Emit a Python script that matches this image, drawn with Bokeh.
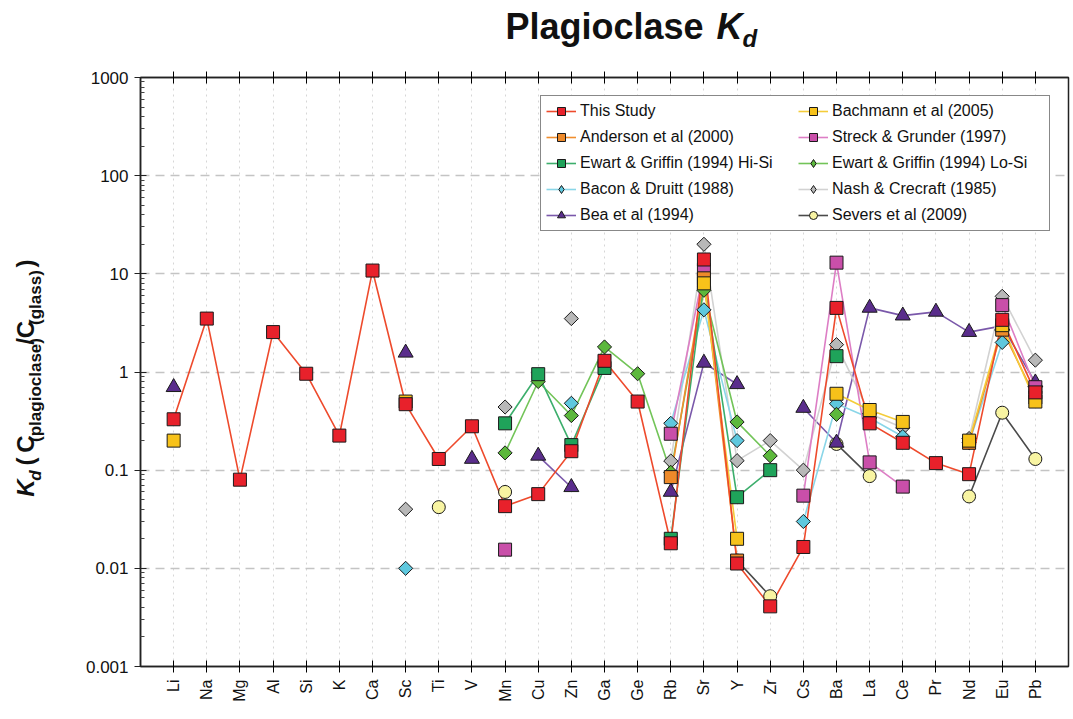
import numpy as np
from bokeh.plotting import figure
from bokeh.layouts import column, row
from bokeh.core.properties import value
from bokeh.models import (Range1d, FixedTicker, CustomJSTickFormatter, LinearAxis,
                          Legend, LegendItem, ColumnDataSource, Grid)
from bokeh.embed import file_html
from bokeh.resources import INLINE

# ---------------------------------------------------------------- data
elements = ["Li", "Na", "Mg", "Al", "Si", "K", "Ca", "Sc", "Ti", "V", "Mn", "Cu", "Zn",
            "Ga", "Ge", "Rb", "Sr", "Y", "Zr", "Cs", "Ba", "La", "Ce", "Pr", "Nd", "Eu", "Pb"]

N = None
#                Li    Na   Mg    Al    Si    K      Ca    Sc    Ti    V     Mn     Cu     Zn     Ga   Ge    Rb     Sr    Y       Zr      Cs      Ba    La    Ce    Pr     Nd     Eu   Pb
this_study =    [0.33, 3.5, 0.08, 2.55, 0.96, 0.225, 10.8, 0.47, 0.13, 0.28, 0.043, 0.057, 0.156, 1.3, 0.5,  0.018, 14.0, 0.0112, 0.0041, 0.0165, 4.5,  0.30, 0.19, 0.118, 0.091, 3.4, 0.62]
bachmann =      [0.2,  N,   N,    N,    N,    N,     N,    0.5,  N,    N,    N,     N,     N,     N,   N,    N,     8.0,  0.02,   N,      N,      0.6,  0.41, 0.31, N,     0.2,   3.0, 0.5]
anderson =      [N,    N,   N,    N,    N,    N,     N,    N,    N,    N,    N,     N,     N,     N,   N,    0.085, 9.0,  0.012,  N,      N,      N,    N,    N,    N,     0.19,  2.7, 0.55]
streck =        [N,    N,   N,    N,    N,    N,     N,    N,    N,    N,    0.0155, N,    N,     N,   N,    0.235, 11.0, N,      N,      0.055,  13.0, 0.12, 0.068, N,    N,     4.8, 0.7]
ewart_hi =      [N,    N,   N,    N,    N,    N,     N,    N,    N,    N,    0.3,   0.95,  0.18,  1.1, N,    0.02,  8.5,  0.053,  0.1,    N,      1.45, N,    N,    N,     N,     N,   N]
ewart_lo =      [N,    N,   N,    N,    N,    N,     N,    N,    N,    N,    0.15,  0.8,   0.36,  1.8, 0.96, 0.095, 6.8,  0.31,   0.14,   N,      0.37, N,    N,    N,     N,     N,   N]
bacon =         [N,    N,   N,    N,    N,    N,     N,    0.01, N,    N,    N,     N,     0.48,  N,   N,    0.3,   4.3,  0.2,    N,      0.03,   0.475, 0.34, 0.22, N,    0.19,  2.0, N]
nash =          [N,    N,   N,    N,    N,    N,     N,    0.04, N,    N,    0.44,  N,     3.5,   N,   N,    0.124, 20.0, 0.125,  0.2,    0.1,    1.9,  0.375, 0.27, N,    0.21,  5.9, 1.32]
bea =           [0.7,  N,   N,    N,    N,    N,     N,    1.57, N,    0.13, N,     0.14,  0.067, N,   N,    0.06,  1.24, 0.75,   N,      0.43,   0.19, 4.5,  3.75, 4.1,   2.55,  2.95, 0.78]
severs =        [N,    N,   N,    N,    N,    N,     N,    N,    0.042, N,   0.06,  N,     N,     N,   N,    N,     N,    0.012,  0.0052, N,      0.185, 0.087, N,   N,     0.054, 0.385, 0.13]

series_names = ["This Study", "Bachmann et al (2005)", "Anderson et al (2000)",
                "Streck & Grunder (1997)", "Ewart & Griffin (1994) Hi-Si",
                "Ewart & Griffin (1994) Lo-Si", "Bacon & Druitt (1988)",
                "Nash & Crecraft (1985)", "Bea et al (1994)", "Severs et al (2009)"]
series_values = [this_study, bachmann, anderson, streck, ewart_hi, ewart_lo,
                 bacon, nash, bea, severs]

# legend columns (filled top to bottom, left column first)
legend_order = ["This Study", "Anderson et al (2000)", "Ewart & Griffin (1994) Hi-Si",
                "Bacon & Druitt (1988)", "Bea et al (1994)",
                "Bachmann et al (2005)", "Streck & Grunder (1997)",
                "Ewart & Griffin (1994) Lo-Si", "Nash & Crecraft (1985)",
                "Severs et al (2009)"]

y_tick_values = [0.001, 0.01, 0.1, 1, 10, 100, 1000]

# ---------------------------------------------------------------- styles
# (marker, fill colour, line colour)
styles = {
    "This Study":                   ("square",   "#e8212b", "#ee4a2c"),
    "Bachmann et al (2005)":        ("square",   "#f7c21a", "#f4cc3a"),
    "Anderson et al (2000)":        ("square",   "#ee8a2a", "#f08e2e"),
    "Streck & Grunder (1997)":      ("square",   "#c94fa9", "#dd7ec5"),
    "Ewart & Griffin (1994) Hi-Si": ("square",   "#1fa35a", "#3cae6c"),
    "Ewart & Griffin (1994) Lo-Si": ("diamond",  "#5cb83c", "#72c458"),
    "Bacon & Druitt (1988)":        ("diamond",  "#5ec8de", "#8ad6e8"),
    "Nash & Crecraft (1985)":       ("diamond",  "#b8b8b8", "#d2d2d2"),
    "Bea et al (1994)":             ("triangle", "#5a2d8c", "#7a58aa"),
    "Severs et al (2009)":          ("circle",   "#f8f4a2", "#4a4a4a"),
}
marker_size = {"square": 13, "triangle": 15, "circle": 13}

FONT = "Liberation Sans"
TXT = "#111111"

W, H = 1073, 719
TITLE_H = 60          # height of the strip holding the title
YLAB_W = 60           # width of the strip holding the y-axis label
FL, FR, FT, FB = 140, 1068, 77, 666   # plotting frame, canvas pixels
X_MAX = len(elements) + 1

# Arial/Liberation bold advance widths (per 1000 em)
adv = {"K": 722, "d": 611, " ": 278, "(": 333, ")": 333, "C": 722, "p": 611,
       "l": 278, "a": 556, "g": 611, "i": 278, "o": 611, "c": 556, "s": 556,
       "e": 556, "/": 278, "P": 667}
MID = 0.3465           # distance from baseline to the middle of the text box, per em


def text_width(txt, size):
    return sum(adv[c] for c in txt) * size / 1000.0


def text_strip(width, height):
    f = figure(width=width, height=height, x_range=Range1d(0, width),
               y_range=Range1d(0, height), output_backend="svg",
               toolbar_location=None, x_axis_location=None, y_axis_location=None,
               min_border=0)
    f.outline_line_color = None
    f.background_fill_color = "white"
    f.border_fill_color = "white"
    for g in f.select(type=Grid):
        g.visible = False
    return f


# ---------------------------------------------------------------- title strip
title_fig = text_strip(W, TITLE_H)


def title_text(px_left, baseline, txt, size, style):
    cx = px_left + text_width(txt, size) / 2
    cy = baseline - MID * size
    title_fig.text(x=[cx], y=[TITLE_H - cy], text=[txt], text_font=value(FONT),
                   text_font_style=style, text_font_size=value(f"{size}px"),
                   text_color=TXT, text_align="center", text_baseline="middle")


title_text(505, 38, "Plagioclase", 36, "bold")
title_text(716, 38, "K", 36, "bold italic")
title_text(742, 46, "d", 24, "bold italic")

# ---------------------------------------------------------------- y-label strip
MAIN_H = H - TITLE_H
ylab_fig = text_strip(YLAB_W, MAIN_H)

# (text, font size, style, baseline x, gap before in px)
MAIN_BASE, SUB_BASE = 33, 41
pieces = [("K", 24, "bold italic", MAIN_BASE, 0), ("d", 17, "bold italic", SUB_BASE, 0),
          ("(", 24, "bold", MAIN_BASE, 6.7), ("C", 24, "bold", MAIN_BASE, 6.7),
          ("(plagioclase)", 17, "bold", SUB_BASE, 0), ("/C", 24, "bold", MAIN_BASE, 0),
          ("(glass)", 17, "bold", SUB_BASE, 0), (")", 24, "bold", MAIN_BASE, 6.7)]
py = 528
for txt, size, style, base, gap in pieces:
    py -= gap
    w = text_width(txt, size)
    cy = py - w / 2
    cx = base - MID * size
    ylab_fig.text(x=[cx], y=[MAIN_H - (cy - TITLE_H)], text=[txt],
                  angle=np.pi / 2, text_font=value(FONT), text_font_style=style,
                  text_font_size=value(f"{size}px"), text_color=TXT,
                  text_align="center", text_baseline="middle")
    py -= w

# ---------------------------------------------------------------- main plot
p = figure(width=W - YLAB_W, height=MAIN_H,
           x_range=Range1d(0, X_MAX), y_range=Range1d(0.001, 1000),
           y_axis_type="log", output_backend="svg", toolbar_location=None,
           min_border_left=FL - YLAB_W, min_border_right=W - FR,
           min_border_top=FT - TITLE_H, min_border_bottom=H - FB)
p.background_fill_color = "white"
p.border_fill_color = "white"
p.outline_line_color = "#222222"
p.outline_line_width = 1.5

x_pos = np.arange(1, len(elements) + 1)

minor = [k * 10.0 ** e for e in range(-3, 3) for k in range(2, 10)]
p.yaxis.ticker = FixedTicker(ticks=y_tick_values, minor_ticks=minor)
p.yaxis.formatter = CustomJSTickFormatter(
    code="return tick >= 1 ? tick.toFixed(0) : String(parseFloat(tick.toPrecision(3)));")
p.yaxis.major_label_text_font = FONT
p.yaxis.major_label_text_font_size = "17px"
p.yaxis.major_label_text_color = TXT
p.yaxis.major_tick_in = 6
p.yaxis.major_tick_out = 6
p.yaxis.minor_tick_in = 4
p.yaxis.minor_tick_out = 0
p.yaxis.axis_line_width = 1.5
p.yaxis.axis_line_color = "#222222"
p.yaxis.major_tick_line_color = "#222222"
p.yaxis.minor_tick_line_color = "#444444"
p.yaxis.major_label_standoff = 6

p.xaxis.ticker = FixedTicker(ticks=list(x_pos))
p.xaxis.major_label_overrides = {int(i): e for i, e in zip(x_pos, elements)}
p.xaxis.major_label_orientation = np.pi / 2
p.xaxis.major_label_text_font = FONT
p.xaxis.major_label_text_font_size = "16px"
p.xaxis.major_label_text_color = TXT
p.xaxis.major_tick_in = 6
p.xaxis.major_tick_out = 6
p.xaxis.minor_tick_line_color = None
p.xaxis.axis_line_width = 1.5
p.xaxis.axis_line_color = "#222222"
p.xaxis.major_label_standoff = 7

top_axis = LinearAxis(ticker=FixedTicker(ticks=list(x_pos)),
                      formatter=CustomJSTickFormatter(code="return '';"),
                      major_tick_in=6, major_tick_out=6, major_label_standoff=0,
                      minor_tick_line_color=None, axis_line_width=1.5,
                      axis_line_color="#222222", major_label_text_font_size="1px")
p.add_layout(top_axis, "above")

p.ygrid.grid_line_color = "#c4c4c4"
p.ygrid.grid_line_dash = "9 6"
p.ygrid.grid_line_width = 1.5
p.xgrid.grid_line_color = "#d6d6d6"
p.xgrid.grid_line_dash = "2 4"
p.xgrid.grid_line_width = 1


def to_arr(vals):
    return np.array([np.nan if v is None else v for v in vals], dtype=float)


sources = {n: ColumnDataSource(dict(x=x_pos, y=to_arr(v)))
           for n, v in zip(series_names, series_values)}

line_r, mark_r, key_r = {}, {}, {}
for name in reversed(series_names):
    lc = styles[name][2]
    line_r[name] = p.line("x", "y", source=sources[name], line_color=lc, line_width=1.6)
for name in reversed(series_names):
    mk, fc, _ = styles[name]
    if mk == "diamond":
        # drawn as a square turned 45 degrees so it is as wide as it is tall
        mark_r[name] = p.scatter("x", "y", source=sources[name], marker="square",
                                 size=10, angle=np.pi / 4, fill_color=fc,
                                 line_color="#1a1a1a", line_width=1)
        # legend key: a single point parked outside the visible x range
        key_r[name] = p.scatter(x=[-50], y=[1], marker="diamond", size=14,
                                fill_color=fc, line_color="#1a1a1a", line_width=1)
    else:
        mark_r[name] = p.scatter("x", "y", source=sources[name], marker=mk,
                                 size=marker_size[mk], fill_color=fc,
                                 line_color="#1a1a1a", line_width=1)
        key_r[name] = mark_r[name]

items = [LegendItem(label=n, renderers=[line_r[n], key_r[n]]) for n in legend_order]
legend = Legend(items=items, ncols=2, location="top_right", margin=18,
                label_text_font=FONT, label_text_font_size="16px",
                label_text_color=TXT, label_width=212, label_height=20,
                glyph_width=30, glyph_height=20, label_standoff=4,
                spacing=6, padding=5, border_line_color="#111111",
                border_line_width=1.5, background_fill_alpha=1.0)
p.add_layout(legend, "center")

layout = column(title_fig, row(ylab_fig, p, spacing=0), spacing=0)

open("out.html", "w").write(file_html(layout, INLINE))
